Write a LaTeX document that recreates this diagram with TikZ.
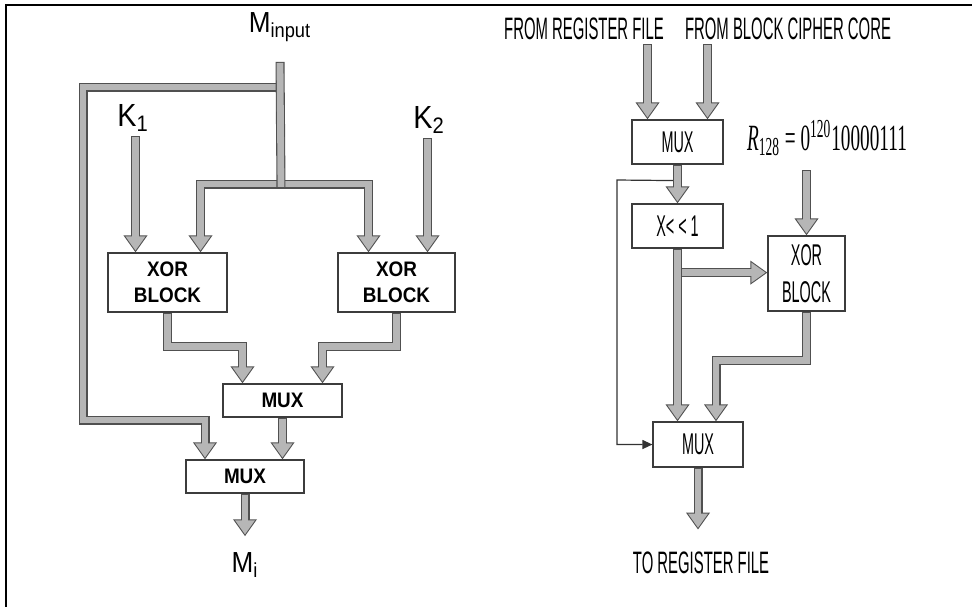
\documentclass[tikz,border=0pt]{standalone}
\usepackage{fontspec}
\setmainfont{Liberation Sans}
\newfontfamily\lblfont[FakeStretch=0.9]{Liberation Sans}
\newfontfamily\condfont[FakeStretch=0.48]{Liberation Sans}
\newfontfamily\formfont[FakeStretch=0.52]{Liberation Serif}
\usetikzlibrary{arrows.meta}
\definecolor{busfill}{RGB}{182,182,182}
\definecolor{busline}{RGB}{80,80,80}
\definecolor{boxline}{RGB}{60,60,60}

\begin{document}
\begin{tikzpicture}[
    x=0.5pt, y=-0.5pt,
    blk/.style={rectangle, draw=boxline, line width=0.6pt, fill=white, inner sep=0pt, align=center},
    lblk/.style={blk, font=\lblfont\bfseries\fontsize{10.5}{13}\selectfont},
    rblk/.style={blk, font=\condfont\fontsize{15}{18.5}\selectfont, minimum width=45.5pt, minimum height=22pt},
    lbl/.style={inner sep=2pt, font=\lblfont\fontsize{14.5}{16}\selectfont},
    rlbl/.style={inner sep=2pt, font=\condfont\fontsize{15.5}{18}\selectfont},
    bar/.style={draw=busline, line width=4.5pt, postaction={draw=busfill, line width=3.4pt, shorten <=0.55pt, shorten >=0.55pt}},
    bus/.style={draw=busline, line width=4.5pt, -{Triangle[width=3.63pt 1.727, length=2.77pt 1.273]},
        postaction={draw=busfill, line width=3.4pt, shorten <=0.55pt, shorten >=0.9pt}},
    thinarr/.style={draw=black!80, line width=0.6pt, -{Triangle[length=5pt, width=4.5pt]}}
]
\useasboundingbox (0,0) rectangle (972,607);
\draw[line width=1.3pt] (972,5) -- (6,5) -- (6,607);

% left: key whitening datapath
\node[lbl] (min) at (280,27) {M\textsubscript{input}};
\node[lbl, font=\lblfont\fontsize{16}{18}\selectfont] (k1) at (133,118) {K\textsubscript{1}};
\node[lbl, font=\lblfont\fontsize{16}{18}\selectfont] (k2) at (429,120) {K\textsubscript{2}};
\node[lblk, minimum width=59.5pt, minimum height=29.5pt] (xorl) at (167.5,282.5) {XOR\\BLOCK};
\node[lblk, minimum width=58.5pt, minimum height=29.5pt] (xorr) at (396.5,282.5) {XOR\\BLOCK};
\node[lblk, minimum width=59.5pt, minimum height=16.5pt] (muxl1) at (282.5,400.5) {MUX};
\node[lblk, minimum width=59pt, minimum height=16.5pt] (muxl2) at (245,476.5) {MUX};
\node[lbl] (mi) at (245,565) {M\textsubscript{i}};

\coordinate (split) at (281,184);
\coordinate (tapl) at (277,87);
\coordinate (lcorner) at (83,420);
\coordinate (xl1) at ([xshift=-16pt]xorl.north);
\coordinate (xl2) at ([xshift=16.5pt]xorl.north);
\coordinate (xr1) at ([xshift=-14pt]xorr.north);
\coordinate (xr2) at ([xshift=15.5pt]xorr.north);

\draw[bus] (k1.south -| xl1) -- (xl1);
\draw[bus] (k2.south -| xr2) -- (xr2);
\draw[bus] (split) -| (xl2);
\draw[bus] (split) -| (xr1);
\draw[bus] (tapl) -| (lcorner) -| ([xshift=-20pt]muxl2.north);
\draw[bar] ([yshift=-8pt]min.south) -- ([yshift=-2pt]split);
\draw[bus] (xorl.south) -- ++(0,34) -| ([xshift=-20pt]muxl1.north);
\draw[bus] (xorr.south) -- ++(0,34) -| ([xshift=20pt]muxl1.north);
\draw[bus] (muxl1.south) -- (muxl1.south |- muxl2.north);
\draw[bus] (muxl2.south) -- ([yshift=6pt]mi.north);

% right: tweak update
\node[rlbl] (fromreg) at (584,29) {FROM REGISTER FILE};
\node[rlbl] (fromcore) at (788,29) {FROM BLOCK CIPHER CORE};
\node[rblk] (muxa) at (677.5,142) {MUX};
\node[rblk] (shift) at (677.5,226) {X< < 1};
\node[font=\formfont\fontsize{18.5}{20}\selectfont, inner sep=1pt] (rconst) at (827,138) {\textit{R}\textsubscript{128} = 0\textsuperscript{120}10000111};
\node[rblk, minimum width=38.5pt, minimum height=37.5pt] (xorb) at (806.5,273.5) {XOR\\BLOCK};
\node[rblk, minimum width=45pt, minimum height=22.5pt] (muxb) at (698,444.5) {MUX};
\node[rlbl] (toreg) at (701,563) {TO REGISTER FILE};

\coordinate (ma1) at ([xshift=-15pt]muxa.north);
\coordinate (ma2) at ([xshift=15pt]muxa.north);
\coordinate (fbk) at (617,180);
\coordinate (tapr) at ([yshift=-12pt]shift.south);
\coordinate (outr) at ([yshift=-31pt]muxb.south);

\draw[bus] (fromreg.south -| ma1) -- (ma1);
\draw[bus] (fromcore.south -| ma2) -- (ma2);
\draw[thinarr] ([yshift=-8pt]muxa.south) -- (fbk) |- (muxb.west);
\draw[bus] (muxa.south) -- (shift.north);
\draw[bus] (tapr) -- (tapr -| xorb.west);
\draw[bus] (shift.south) -- (shift.south |- muxb.north);
\draw[bus] ([yshift=-6pt]rconst.south -| xorb.north) -- (xorb.north);
\draw[bus] (xorb.south) -- ++(0,49) -| ([xshift=9pt]muxb.north);
\draw[bus] (muxb.south) -- (outr);
\end{tikzpicture}
\end{document}
